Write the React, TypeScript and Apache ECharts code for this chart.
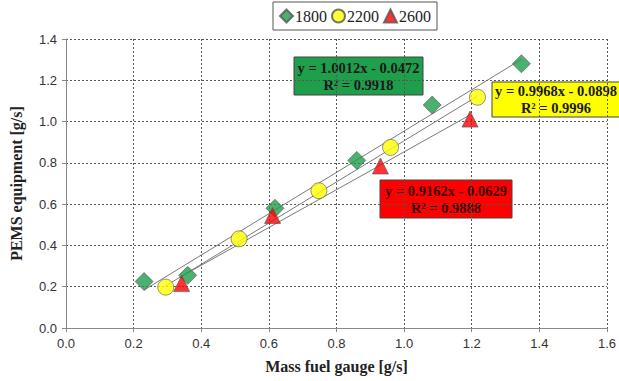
import React, { useEffect, useRef } from "react";
import * as echarts from "echarts";

const seriesNames = ["1800", "2200", "2600"];
const x1800 = [0.231, 0.36, 0.618, 0.86, 1.083, 1.347];
const y1800 = [0.225, 0.255, 0.58, 0.812, 1.08, 1.28];
const x2200 = [0.295, 0.512, 0.748, 0.96, 1.217];
const y2200 = [0.198, 0.432, 0.665, 0.875, 1.118];
const x2600 = [0.342, 0.611, 0.93, 1.195];
const y2600 = [0.215, 0.545, 0.785, 1.012];
const slopes = [1.0012, 0.9968, 0.9162];
const intercepts = [-0.0472, -0.0898, -0.0629];
const r2 = ["0.9918", "0.9996", "0.9888"];
const xTicks = ["0.0", "0.2", "0.4", "0.6", "0.8", "1.0", "1.2", "1.4", "1.6"];

const colors = ["#1f9e4b", "#ffff00", "#ff0000"];
const symbols = ["diamond", "circle", "triangle"];

export default function App() {
  const ref = useRef<HTMLDivElement>(null);
  useEffect(() => {
    const chart = echarts.init(ref.current!, null, { renderer: "svg" });
    const xs = [x1800, x2200, x2600];
    const ys = [y1800, y2200, y2600];
    const scatter = seriesNames.map((name, i) => ({
      name,
      type: "scatter",
      symbol: symbols[i],
      symbolSize: i === 0 ? 18 : 16,
      z: 3,
      itemStyle: { color: colors[i], borderColor: "#555", borderWidth: 0.8 },
      data: xs[i].map((x, j) => [x, ys[i][j]]),
    }));
    const trends = seriesNames.map((name, i) => {
      const mn = Math.min(...xs[i]);
      const mx = Math.max(...xs[i]);
      return {
        name: name + " trend",
        type: "line",
        symbol: "none",
        z: 2,
        silent: true,
        lineStyle: { color: "#7a7a7a", width: 1 },
        data: [
          [mn, slopes[i] * mn + intercepts[i]],
          [mx, slopes[i] * mx + intercepts[i]],
        ],
      };
    });
    const eq = (i: number) =>
      `y = ${slopes[i].toFixed(4)}x - ${Math.abs(intercepts[i]).toFixed(4)}\nR² = ${r2[i]}`;
    const box = (i: number, x: number, y: number, w: number, h: number, textColor: string, tx?: number) => ({
      type: "group",
      x,
      y,
      z: 10,
      children: [
        {
          type: "rect",
          shape: { x: 0, y: 0, width: w, height: h },
          style: { fill: colors[i], stroke: "#444", lineWidth: 1 },
        },
        {
          type: "text",
          x: tx ?? w / 2,
          y: h / 2,
          style: {
            text: eq(i),
            fill: textColor,
            fontFamily: "Liberation Serif",
            fontWeight: "bold",
            fontSize: 14.5,
            align: "center",
            verticalAlign: "middle",
            lineHeight: 17,
          },
        },
      ],
    });
    chart.setOption({
      animation: false,
      grid: { left: 61, right: 6, top: 39, bottom: 53 },
      legend: {
        data: seriesNames.map((n, i) => ({ name: n, icon: symbols[i] })),
        left: 273,
        top: 2,
        padding: [6, 6],
        itemGap: 4,
        itemWidth: 13,
        itemHeight: 13,
        borderColor: "#555",
        borderWidth: 1,
        backgroundColor: "#fff",
        textStyle: { fontFamily: "Liberation Serif", fontSize: 16, color: "#222", padding: [0, 0, 0, -3] },
      },
      xAxis: {
        type: "value",
        min: 0,
        max: 1.6,
        interval: 0.2,
        name: "Mass fuel gauge [g/s]",
        nameLocation: "middle",
        nameGap: 30,
        nameTextStyle: { fontFamily: "Liberation Serif", fontWeight: "bold", fontSize: 16, color: "#222" },
        axisLine: { show: true, lineStyle: { color: "#888" } },
        axisTick: { show: true, length: 4, lineStyle: { color: "#888" } },
        axisLabel: {
          fontFamily: "Liberation Sans",
          fontSize: 13,
          color: "#333",
          margin: 9,
          formatter: (v: number) => xTicks[Math.round(v / 0.2)] ?? v.toFixed(1),
        },
        splitLine: { show: true, lineStyle: { color: "#555", type: [2, 2], width: 1 } },
      },
      yAxis: {
        type: "value",
        min: 0,
        max: 1.4,
        interval: 0.2,
        name: "PEMS equipment [g/s]",
        nameLocation: "middle",
        nameGap: 42,
        nameTextStyle: { fontFamily: "Liberation Serif", fontWeight: "bold", fontSize: 16, color: "#222" },
        axisLine: { show: true, lineStyle: { color: "#888" } },
        axisTick: { show: true, length: 4, lineStyle: { color: "#888" } },
        axisLabel: {
          fontFamily: "Liberation Sans",
          fontSize: 13,
          color: "#333",
          margin: 9,
          formatter: (v: number) => v.toFixed(1),
        },
        splitLine: { show: true, lineStyle: { color: "#555", type: [2, 2], width: 1 } },
      },
      graphic: [
        box(0, 294, 57, 129, 38, "#1a1a1a"),
        box(1, 492, 82, 140, 35, "#1a1a1a", 64),
        box(2, 380, 180, 132, 38, "#3a0000"),
      ],
      series: [...trends, ...scatter],
    });
    return () => chart.dispose();
  }, []);
  return (
    <div
      ref={ref}
      style={{ position: "absolute", left: 0, top: 0, width: 619, height: 381 }}
    />
  );
}
